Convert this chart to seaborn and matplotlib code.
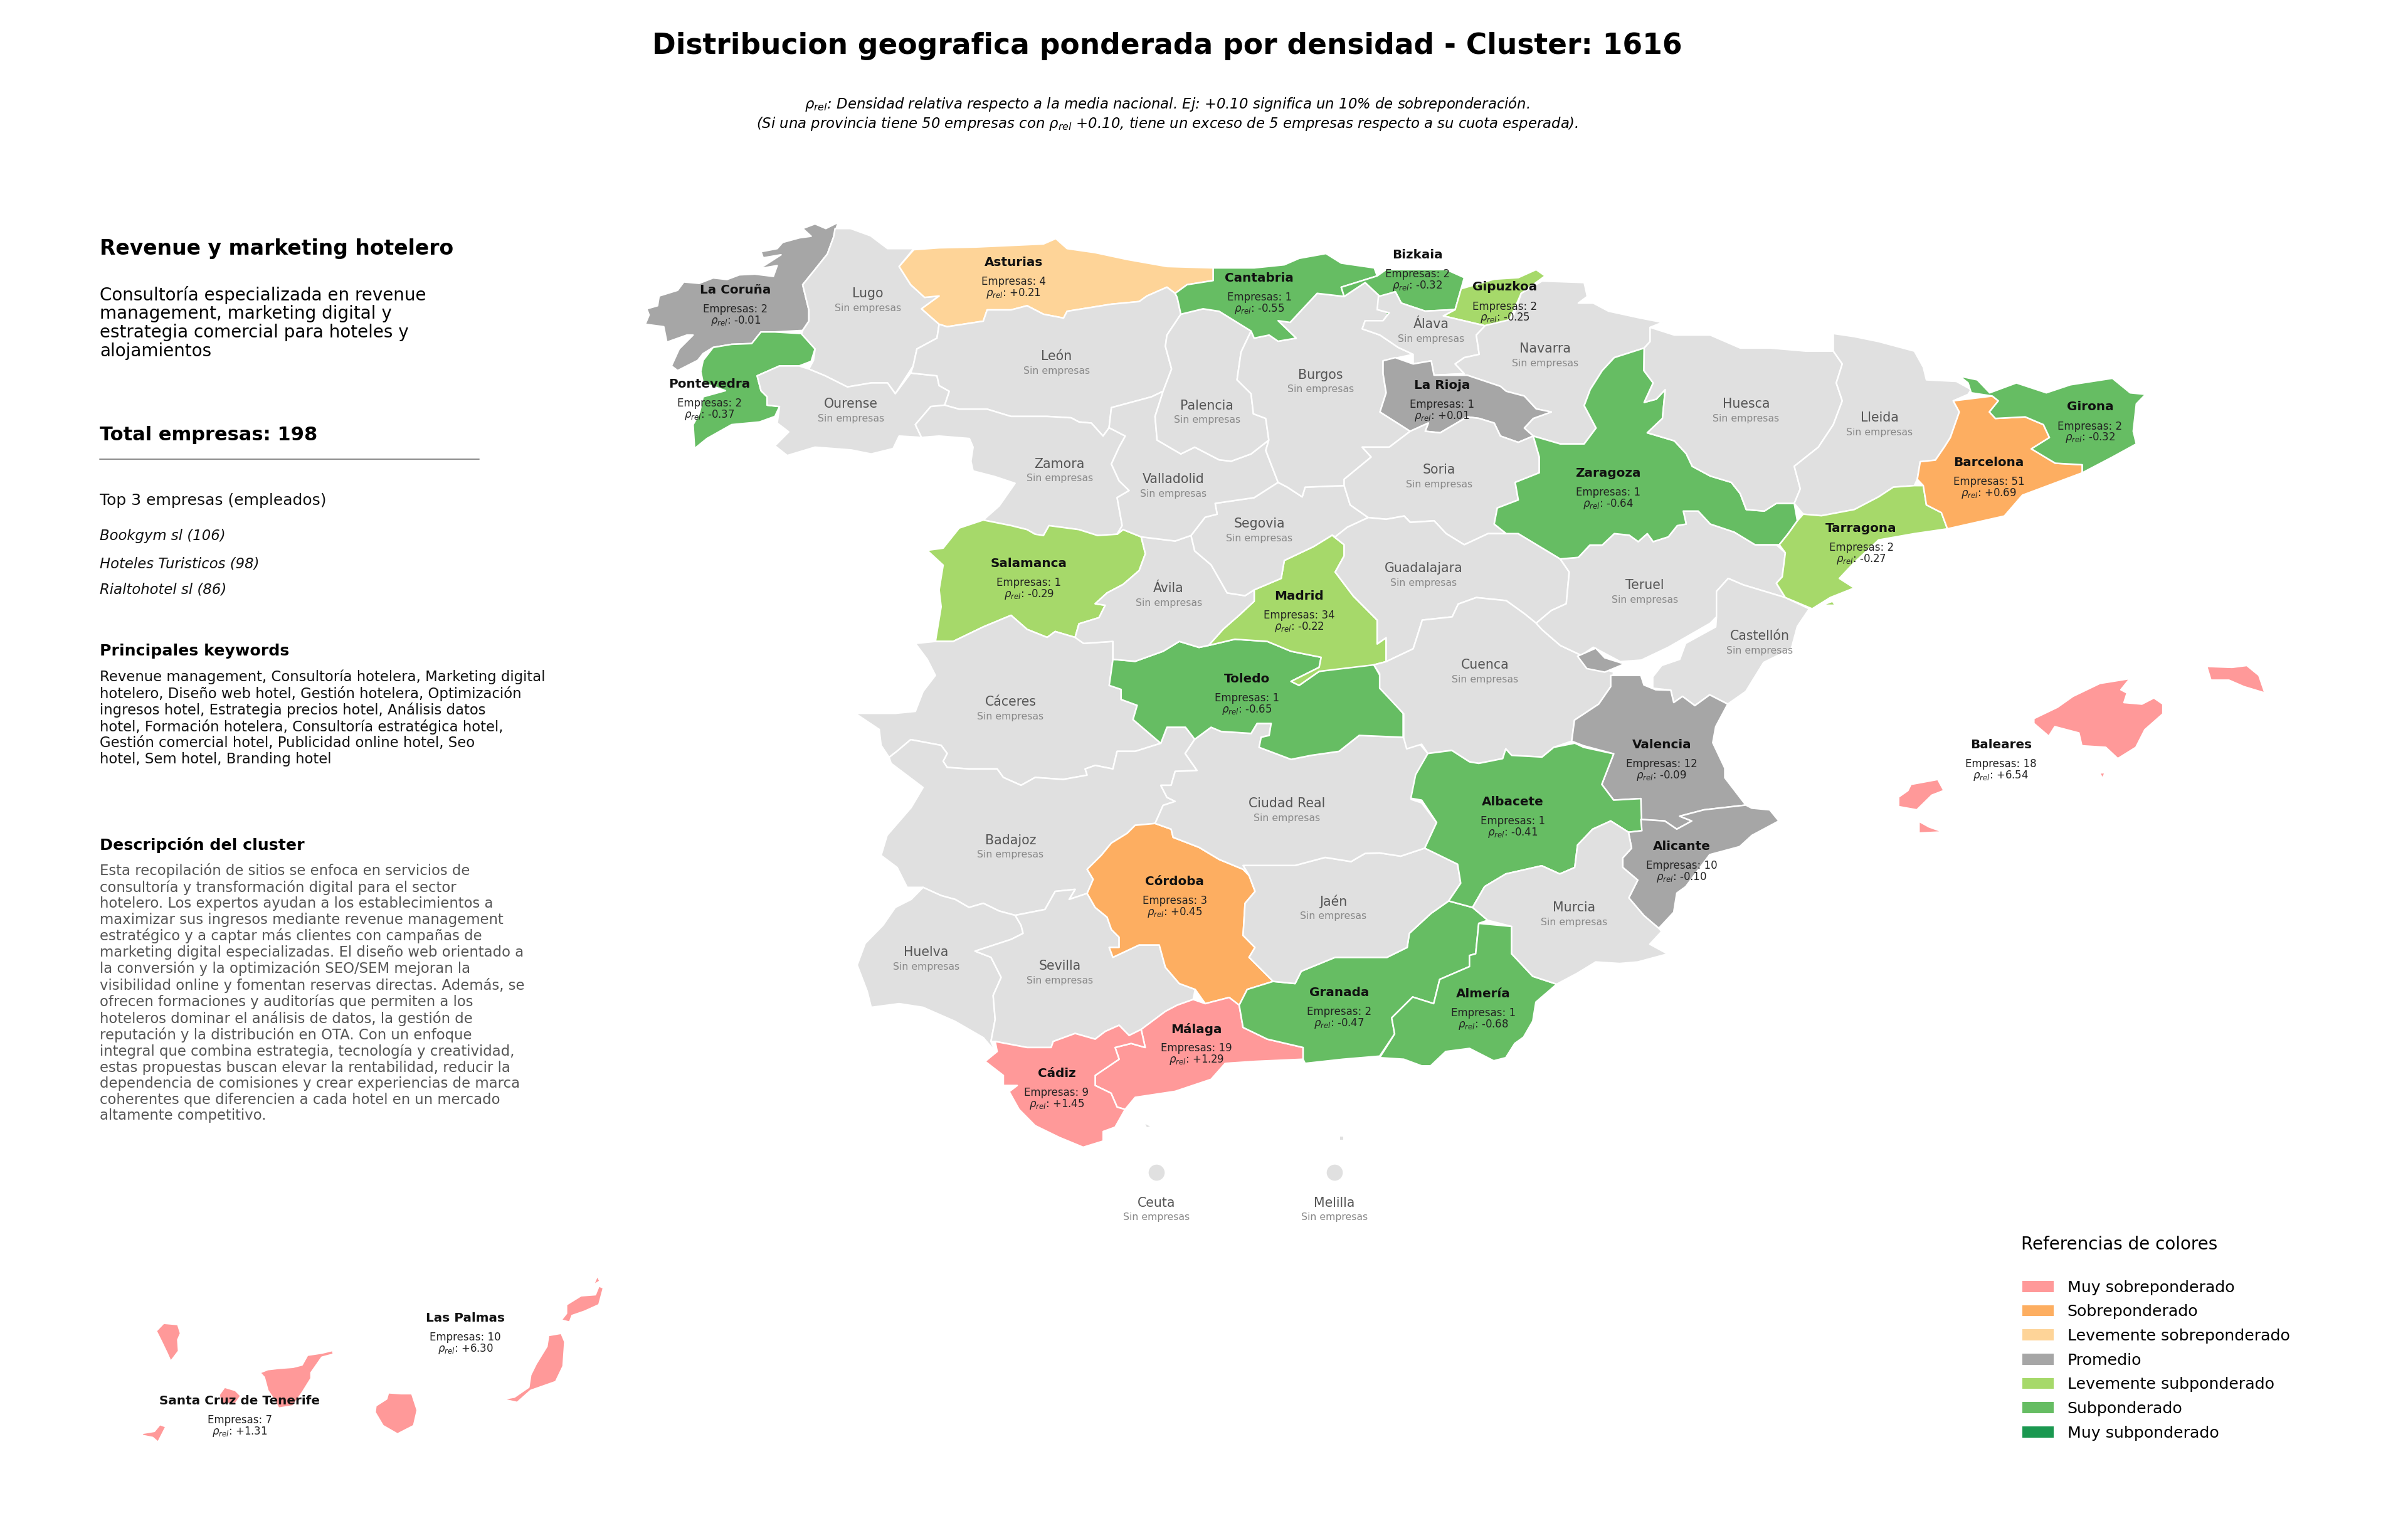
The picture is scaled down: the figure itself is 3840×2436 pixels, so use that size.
import matplotlib
matplotlib.use("Agg")
import matplotlib.pyplot as plt
from matplotlib.patches import Patch
import pandas as pd
import seaborn as sns

# contornos leidos a ojo del mapa, en unidades de 1560 x 989.6
LA_CORUNA = [(543,144),(535,148),(528,145),(520,148),(525.5,153),(518,154),(507,157),(503.5,161),(493,163),(494.4,167),(506,165),(492,174),(503.5,172),(501,179),(489,177.5),(479,178),(471,181),(462,180),(453,183.5),(443,182.6),(439,188),(427,191.7),(426,198),(419,200),(420.5,204),(418,210),(430,211.6),(432,221.6),(445,217),(449,217),(440,226),(435,237),(439,240),(452,233.4),(455.5,229),(462,225),(474,223),(487,222.5),(493,215),(502,215),(520,214),(524,208),(524,200.7),(520,184.4),(526.8,176),(536,164.5),(540,153.6)]
LUGO = [(541,148),(551,148),(564,152.7),(575,161),(592,161),(582.5,172.6),(590,184.4),(599,192.6),(608.4,191.7),(597,200),(608.4,210),(607,219),(594,226),(591.6,237),(580,255),(575,248),(564.4,248),(549,250.6),(534.6,243.4),(524,239),(527,233.4),(528,226),(519,217),(520,214),(524,208),(524,200.7),(520,184.4),(526.8,176),(536,164.5),(540,153.6)]
PONTEVEDRA = [(519,216),(528,226),(525.5,234),(517.7,237),(505,237),(490.5,243.4),(493,253),(497,257),(497,262.4),(505,263.3),(502,269.7),(492,273.3),(474,275),(458,284),(450,290.5),(449,275),(453,268),(455.5,257),(470,253),(455.5,248),(454,240.6),(455.5,233.4),(462,225),(474,223),(487,222.5),(493,215),(502,215)]
OURENSE = [(524,239),(534.6,243.4),(549,250.6),(564.4,248),(575,248),(580,255),(590,241.6),(607,243.4),(608.4,249.7),(615,253.4),(612,262.4),(603,263.3),(593,275),(597,283.3),(582.5,282.4),(578.6,290.5),(564.4,294),(551.4,291.4),(528,289.6),(510,295),(502,288.7),(511,279.7),(503.5,274),(505,263.3),(497,262.4),(497,257),(493,253),(490.5,243.4),(505,237),(517.7,237)]
ASTURIAS = [(592,161.7),(608.4,160.5),(632,160),(676,158),(684,154.5),(691.3,161),(709.4,163.6),(730,168),(756,172.6),(786,173.5),(786,181.7),(769,184.4),(761.3,190),(756,186),(743,191.7),(738,195.3),(720,197),(691.3,201.6),(689,206),(676,203.5),(665.4,198),(655,200.7),(639.5,200.7),(637,208),(613.6,211.6),(608.4,210),(597,200),(608.4,191.7),(599,192.6),(590,184.4),(582.5,172.6)]
LEON = [(613.6,211.6),(637,208),(639.5,200.7),(655,200.7),(665.4,198),(676,203.5),(689,206),(691.3,201.6),(720,197),(738,195.3),(743,191.7),(756,186),(761.3,190),(762.6,192.6),(765,203.5),(756,217),(755,224.3),(759,239),(753.5,253.4),(746,257),(720,264),(718.5,277),(714.6,282.4),(707,274),(699,273.3),(694,270.6),(678.4,269.7),(655,269.7),(639.5,265),(621.4,265),(612,262.4),(615,253.4),(608.4,249.7),(607,243.4),(590,241.6),(591.6,237),(594,226),(607,219),(608.4,210)]
ZAMORA = [(612,262.4),(621.4,265),(639.5,265),(655,269.7),(678.4,269.7),(694,270.6),(699,273.3),(707,274),(714.6,282.4),(718.5,277),(729,282.4),(725,289.6),(720,300.5),(725,311.4),(731.5,317.7),(723.7,322.3),(727,340.4),(723.7,346),(711,346.8),(699,343),(679.6,340.4),(676,346.8),(670.6,346),(665.4,343),(655,340.4),(637,336.8),(647.3,327.7),(657.6,313),(644.7,308.7),(630.4,305),(629,298.7),(630.4,289.6),(628,284),(608.4,282.4),(597,283.3),(593,275),(603,263.3)]
SALAMANCA = [(637,336.8),(655,340.4),(665.4,343),(670.6,346),(676,346.8),(679.6,340.4),(699,343),(711,346.8),(723.7,346),(727.6,343),(739.3,347.7),(742,358.6),(738,369.5),(727.6,378.5),(717.2,384),(709.5,391),(716,392),(712,400),(699,404),(696.5,412.8),(683.6,409),(678.4,412.8),(665.4,407.6),(655,398.5),(637,406),(617.5,415.4),(606,415.4),(609.7,393),(608.4,382),(611,366),(600.6,356.4),(611,355),(621.4,342)]
CACERES = [(593,416.7),(606,415.4),(617.5,415.4),(637,406),(655,398.5),(665.4,407.6),(678.4,412.8),(683.6,409),(696.5,412.8),(702,416.7),(721,415.4),(721,427),(718.6,443.9),(726.3,446.5),(726.3,453),(736.7,456.8),(734,466),(752,481.4),(735.4,486.6),(723.7,486.6),(721,498),(709.5,495.7),(703,498),(704.3,502),(688.7,504.8),(670.6,503.5),(661.5,508.6),(650,503.5),(646,498),(628,498),(613.6,497),(611,493),(613.6,488),(609.7,482.7),(590,479),(581,486.6),(576,490.5),(570.8,482.7),(569.6,472.4),(554,462),(580,462),(593,460.7),(598,447.8),(606,437.4),(600.7,427)]
BADAJOZ = [(590,479),(609.7,482.7),(613.6,488),(611,493),(613.6,497),(628,498),(646,498),(650,503.5),(661.5,508.6),(670.6,503.5),(688.7,504.8),(704.3,502),(703,498),(709.5,495.7),(721,498),(723.7,486.6),(735.4,486.6),(752,481.4),(756,471),(768,471),(774,478.8),(767.8,488),(775.5,499),(761.3,499.6),(758.7,508.6),(752,508.6),(756,516.4),(761.3,519),(753.5,521.6),(748.3,533.3),(735.4,534.5),(730.2,539.7),(720,546),(713.4,554),(704.3,563),(708.2,569.5),(704.3,578.6),(696.5,581.2),(692.6,582.5),(696.5,576),(683.6,577.3),(677,589),(657.7,592.8),(647.3,590),(637,585),(627.8,587.7),(618.8,582.5),(609.7,580),(598,574.7),(587.7,574.7),(581.2,561.8),(570.8,554),(574.7,541),(590.3,523),(598,510),(577.3,494.4),(576,490.5),(581,486.6)]
HUELVA = [(598,574.7),(609.7,580),(618.8,582.5),(627.8,587.7),(637,585),(647.3,590),(657.7,592.8),(661.5,599.3),(662.8,604.5),(655,608.4),(631.7,616),(642,620),(648.6,633),(643.4,644.7),(644.7,660.2),(642,674.5),(644.7,681),(637,672),(618.8,661.5),(598,652.4),(582.5,650),(564.4,652.4),(561.8,642),(555.3,625),(560.5,611),(572,599.3),(580,587.7),(590.3,582.5)]
SEVILLA = [(657.7,592.8),(677,589),(683.6,577.3),(696.5,576),(692.6,582.5),(704.3,578.6),(709.5,587.7),(717.2,594),(720,602),(725,607),(725,613.6),(718.6,613.6),(721,620),(738,612),(751,612),(755,626.5),(764,637),(774.3,640.8),(773,647.3),(762.6,651),(755,655),(739.3,666.7),(731.5,670.6),(725,664),(716,668),(709.5,673),(696.5,669.3),(682.3,674.5),(681,678.4),(665.4,678.4),(644.7,674.5),(642,674.5),(644.7,660.2),(643.4,644.7),(648.6,633),(642,620),(631.7,616),(655,608.4),(662.8,604.5),(661.5,599.3)]
CORDOBA = [(735.4,534.5),(748.3,533.3),(758.7,537),(760,542.3),(776.8,548.8),(789.8,556.6),(805.3,563),(809.2,567),(813.1,577.3),(806.6,585),(805.3,605.8),(813,613.6),(809.2,620),(824.8,635.6),(808,640.8),(802.8,651),(796.3,646),(780.8,650),(774.3,640.8),(764,637),(755,626.5),(751,612),(738,612),(721,620),(718.6,613.6),(725,613.6),(725,607),(720,602),(717.2,594),(709.5,587.7),(704.3,578.6),(708.2,569.5),(704.3,563),(713.4,554),(720,546),(730.2,539.7)]
MALAGA = [(773,647.3),(780.8,650),(796.3,646),(802.8,651),(805.3,665.4),(821,673),(844.2,678.4),(844.2,686),(813,687.4),(793.7,688.7),(784.6,699),(761.3,706.8),(735.4,710.7),(728.9,718.5),(723.7,717),(719.8,708),(709.5,703),(709.5,696.5),(725,686),(722.4,678.4),(732.8,675.8),(741.9,678.4),(739.3,666.7),(755,655),(762.6,651)]
CADIZ = [(644.7,674.5),(665.4,678.4),(681,678.4),(682.3,674.5),(696.5,669.3),(709.5,673),(716,668),(725,664),(731.5,670.6),(739.3,666.7),(741.9,678.4),(732.8,675.8),(722.4,678.4),(725,686),(709.5,696.5),(709.5,703),(719.8,708),(723.7,717),(728.9,718.5),(722.4,730),(714.7,732.8),(714.7,739),(701.7,743),(686.2,736.6),(670.6,729),(660.2,718.5),(653.8,707),(659,703),(650,703),(650,696.5),(638.2,687.4),(646,681)]
GRANADA = [(802.8,651),(808,640.8),(824.8,635.6),(839,637),(843,629),(865,620),(880.5,620),(898.6,620),(911.6,613.6),(913,604.5),(927,591.6),(938.5,583.5),(954,587.7),(963.8,596),(958,598),(956,617.7),(952,618.8),(952,626),(932.7,634.3),(928.8,650),(915.2,645.7),(901.6,659.2),(903.5,669.6),(893.8,684),(870,686),(845.5,688.7),(844.2,686),(844.2,678.4),(821,673),(805.3,665.4)]
ALMERIA = [(958,598),(979.3,600),(979.3,617.7),(993,632.3),(1008.5,637.4),(995,649),(993,661.3),(987,671.7),(981.3,675.8),(975.5,685),(967.7,687),(952,679),(936.6,681),(926.8,690.3),(921,690.3),(909.4,686),(893.8,685),(903.5,669.6),(901.6,659.2),(915.2,645.7),(928.8,650),(932.7,634.3),(952,626),(952,618.8),(956,617.7)]
JAEN = [(805.3,560.5),(839,560.5),(858.5,555.3),(875.3,558),(884.4,552.7),(893.8,552.4),(907.4,554.5),(923,549.3),(944.3,559.7),(946.3,572),(938.5,583.5),(927,591.6),(913,604.5),(911.6,613.6),(898.6,620),(880.5,620),(865,620),(843,629),(839,637),(824.8,635.6),(809.2,620),(813,613.6),(805.3,605.8),(806.6,585),(813.1,577.3),(809.2,567)]
CIUDAD_REAL = [(758.7,537),(748.3,533.3),(753.5,521.6),(761.3,519),(756,516.4),(752,508.6),(758.7,508.6),(761.3,499.6),(775.5,499),(767.8,488),(774,478.8),(784.6,471),(791,473.7),(810.5,475),(814.4,468.5),(823.5,468.5),(822.2,476.3),(817,477.5),(815.7,484),(836.4,491.8),(849.4,489.2),(867.5,486.6),(880.5,476.3),(909,477.5),(912.9,484),(919.4,481.4),(925,488),(917,503.5),(917.1,510),(914.2,517.7),(921,520),(930.7,532.7),(923,549.3),(907.4,554.5),(893.8,552.4),(884.4,552.7),(875.3,558),(858.5,555.3),(839,560.5),(805.3,560.5),(809.2,567),(805.3,563),(789.8,556.6),(776.8,548.8),(760,542.3)]
TOLEDO = [(721,427),(735.4,428.3),(753.5,421.8),(764,415.4),(776.8,419.3),(783,418),(800,414),(821,415.4),(836.4,421.8),(855.9,425.7),(854.6,432.2),(836.4,441.3),(841.6,443.9),(854.6,434.8),(889.5,429.6),(894.7,438.7),(894,445),(909,462),(909,477.5),(880.5,476.3),(867.5,486.6),(849.4,489.2),(836.4,491.8),(815.7,484),(817,477.5),(822.2,476.3),(823.5,468.5),(814.4,468.5),(810.5,475),(791,473.7),(784.6,471),(774,478.8),(768,471),(756,471),(752,481.4),(734,466),(736.7,456.8),(726.3,453),(726.3,446.5),(718.6,443.9)]
MADRID = [(863,346.6),(870.8,352.8),(870.8,360),(865,370.5),(876.7,386),(892.2,401.6),(892.2,417),(898,413),(898,428.5),(890,430.6),(854.6,434.8),(841.6,443.9),(836.4,441.3),(854.6,432.2),(855.9,425.7),(836.4,421.8),(821,415.4),(800,414),(783,418),(792.4,407.5),(802.7,398.5),(812.5,389.4),(812.5,382),(830,374.6),(832,363),(851,354)]
AVILA = [(739.3,347.7),(761.3,350.4),(771.6,346.8),(774,356.8),(784.6,365.8),(795,384),(806.6,385.8),(812.5,382),(812.5,389.4),(802.7,398.5),(792.4,407.5),(783,418),(776.8,419.3),(764,415.4),(753.5,421.8),(735.4,428.3),(721,427),(721,415.4),(702,416.7),(696.5,412.8),(699,404),(712,400),(716,392),(709.5,391),(717.2,384),(727.6,378.5),(738,369.5),(742,358.6)]
SEGOVIA = [(771.6,346.8),(780.7,335),(788.5,333),(787.2,326),(812.5,322.3),(828,312.4),(834,315.5),(843.6,321.8),(845.5,315.5),(870.8,314.5),(874.7,327),(886.4,335.2),(872.8,341.5),(865,347.7),(863,346.6),(851,354),(832,363),(830,374.6),(812.5,382),(806.6,385.8),(795,384),(784.6,365.8),(774,356.8)]
VALLADOLID = [(720,264),(746,257),(753.5,253.4),(748.3,269.7),(749.6,285),(765,294),(774,289.6),(789.8,297.8),(797.6,298.7),(810.5,294),(822,285),(820,291.7),(828,312.4),(812.5,322.3),(787.2,326),(788.5,333),(780.7,335),(771.6,346.8),(761.3,350.4),(739.3,347.7),(727.6,343),(723.7,346),(727,340.4),(723.7,322.3),(731.5,317.7),(725,311.4),(720,300.5),(725,289.6),(729,282.4),(718.5,277)]
PALENCIA = [(765,203.5),(779.4,200),(789.8,201.6),(810.5,214.4),(804,228),(801.4,246),(810.5,255),(812,268),(820,271),(822,285),(810.5,294),(797.6,298.7),(789.8,297.8),(774,289.6),(765,294),(749.6,285),(748.3,269.7),(753.5,253.4),(759,239),(755,224.3),(756,217)]
BURGOS = [(810.5,214.4),(812.5,219),(822.2,217),(828,221),(839.7,219),(828,207.7),(835.8,208.8),(853.3,190),(870.8,192),(884.4,183),(894,192),(892.2,200.5),(900,202.6),(896,207.7),(884.4,207.7),(882.5,213),(894,217),(905.8,225),(915.5,229.5),(896,233.7),(896,242),(898,254.4),(894,266.8),(913.6,279.3),(900,289.6),(882.5,289.6),(888.3,296),(870.8,310.4),(870.8,314.5),(845.5,315.5),(843.6,321.8),(834,315.5),(828,312.4),(820,291.7),(822,285),(820,271),(812,268),(810.5,255),(801.4,246),(804,228)]
CANTABRIA = [(786,173.5),(812.5,173.5),(832,171.5),(841.7,167.3),(859,164.2),(868.9,170.4),(890.3,173.5),(892.2,178.7),(868.9,186),(870.8,192),(853.3,190),(835.8,208.8),(828,207.7),(839.7,219),(828,221),(822.2,217),(812.5,219),(810.5,214.4),(789.8,201.6),(779.4,200),(765,203.5),(762.6,192.6),(761.3,190),(769,184.4),(786,181.7)]
BIZKAIA = [(892.2,178.7),(898,174.6),(937,174.6),(948.6,179.8),(946.6,187),(942.7,200.5),(923.3,201.5),(907.8,196.3),(904,189),(894,192),(884.4,183),(870.8,192),(868.9,186)]
BIZKAIA_ENCLAVE = [(898,201.5),(904,202),(905,205),(899,205)]
GIPUZKOA = [(946.6,187),(968,180.8),(983.6,179.8),(995.2,174.6),(1001,178.7),(985.5,190),(977.7,207.7),(962.2,211),(935,204.6),(942.7,200.5)]
ALAVA = [(893,192),(904,189),(907.8,196.3),(923.3,201.5),(942.7,200.5),(935,204.6),(962.2,211),(956.4,217),(958.3,229.5),(948.6,231.6),(942.7,235.7),(948.6,242),(929,243),(927.2,233.7),(915.5,235.7),(915.5,229.5),(905.8,225),(894,217),(882.5,213),(884.4,207.7),(896,207.7),(900,202.6),(892.2,200.5)]
NAVARRA = [(999,182),(1026.3,183),(1028.3,192),(1022.5,196.3),(1032.2,196.3),(1042,201.5),(1061.3,205.7),(1077,208.8),(1069,212),(1069,221.2),(1065.2,225.4),(1045.8,231.6),(1038,240),(1030.2,252.3),(1026.3,262.7),(1034,277.2),(1026.3,287.5),(1010.8,287.5),(993.3,282.4),(987.5,277.2),(993.3,271),(1005,266.8),(995.2,264.8),(987.5,256.5),(975.8,253.4),(972,250.2),(950.5,243),(929,243),(948.6,242),(942.7,235.7),(948.6,231.6),(958.3,229.5),(956.4,217),(962.2,210.8),(979.7,206.7),(985.5,190)]
LA_RIOJA = [(896,233.7),(903.9,231.6),(915.5,235.7),(927.2,233.7),(929,243),(950.5,243),(972,250.2),(975.8,253.4),(987.5,256.5),(995.2,264.8),(1005,266.8),(993.3,271),(987.5,277.2),(993.3,282.4),(983.6,286.5),(972,282.4),(968,274),(958.3,271),(950.5,270),(933,280.3),(923.3,279.3),(925.3,274),(913.6,279.3),(894,266.8),(898,254.4),(896,242)]
SORIA = [(913.6,279.3),(925.3,274),(923.3,279.3),(933,280.3),(950.5,270),(958.3,271),(968,274),(972,282.4),(983.6,286.5),(993.3,282.4),(997.2,296),(997.2,306.2),(981.6,312.4),(983.6,323.8),(970,329),(968,339.4),(975.8,345.6),(964,345.6),(948.6,352.8),(936.9,345.6),(929.1,337.3),(913.6,338.3),(909.7,334.2),(898,336.3),(886.4,335.2),(874.7,327),(870.8,314.5),(870.8,310.4),(888.3,296),(882.5,289.6),(900,289.6)]
GUADALAJARA = [(886.4,335.2),(898,336.3),(909.7,334.2),(913.6,338.3),(929.1,337.3),(936.9,345.6),(948.6,352.8),(964,345.6),(975.8,345.6),(983.6,345.6),(1010.8,362),(1016.6,370.5),(1014.7,391),(1005,395.4),(995.2,403.6),(987.5,397.4),(975.8,389),(956.4,387),(944.7,391.2),(940.8,399.5),(921.4,401.6),(917.5,414),(915.5,420.2),(898,428.5),(898,413),(892.2,417),(892.2,401.6),(876.7,386),(865,370.5),(870.8,360),(870.8,352.8),(863,346.6),(865,347.7),(872.8,341.5)]
CUENCA = [(898,428.5),(915.5,420.2),(917.5,414),(921.4,401.6),(940.8,399.5),(944.7,391.2),(956.4,387),(975.8,389),(987.5,397.4),(995.2,403.6),(999,407.8),(1010.8,418),(1024.4,424.4),(1026,429),(1045.4,435.3),(1043.5,444.7),(1035.7,456),(1020,466.4),(1018.2,480),(1006.6,484),(999,490.3),(979.3,489.2),(975.5,485),(973.5,491.3),(958,494.4),(952,493.4),(940.5,486),(925,488),(921,482),(911.3,485),(909.4,478),(909.4,462.3),(893.8,445.7),(893.8,436.4),(890,430.6)]
TERUEL = [(1010.8,362),(1022.5,361),(1030,353),(1038,353),(1045.8,345.6),(1055.5,346.6),(1061.3,350.8),(1067.2,345.6),(1071,350.8),(1080.8,347.7),(1086.6,340.4),(1092.4,339.4),(1090.5,331),(1100.2,331),(1108,339.4),(1123.5,344.6),(1137,352.8),(1150.8,352.8),(1156.6,358),(1154.6,373.6),(1150.8,377.7),(1156.6,387),(1129.4,378.8),(1119.6,374.6),(1112,383),(1112,399.5),(1108,403.6),(1080.8,419.2),(1063.3,427.5),(1049.7,428.5),(1032.2,419.2),(1024.4,424.4),(1010.8,418),(999,407.8),(995.2,403.6),(1005,395.4),(1014.7,391),(1016.6,370.5)]
CASTELLON = [(1156.6,387),(1172.1,394.3),(1164.4,405.7),(1160.5,420.2),(1142.6,429),(1131,447.8),(1119.3,456),(1107.6,450),(1098,457),(1090,451),(1084.3,455),(1082.4,447),(1070.7,445.7),(1070.7,438.4),(1076.5,431),(1088.2,427),(1092,416.7),(1111.5,406),(1112,399.5),(1112,383),(1119.6,374.6),(1129.4,378.8)]
VALENCIA = [(1043.5,437.4),(1063,437.4),(1065,443.6),(1072.6,446.7),(1082.4,447),(1084.3,455),(1090,451),(1098,457),(1107.6,450),(1119.3,456),(1111.5,470.6),(1109.6,481),(1117.4,497.5),(1117.4,503.7),(1131,521.4),(1103.8,524.5),(1088.2,528.6),(1096,531.7),(1086.3,537),(1078.5,531.7),(1063,530.7),(1063,517.2),(1045.4,518.2),(1037.7,508),(1045.4,488.2),(1026,483),(1018.2,480),(1020,466.4),(1035.7,456),(1043.5,444.7)]
VALENCIA_ADEMUZ = [(1022,425),(1033.8,419.8),(1039.6,426),(1052.4,430),(1039.6,435.3),(1028,433)]
ALBACETE = [(1020.2,481.3),(1026,484),(1045.4,488.2),(1037.7,508),(1045.4,518.2),(1063,517.2),(1063.7,538),(1055,539),(1043.5,531.7),(1031.8,537),(1022,547.3),(1020.2,561.8),(1010.5,566),(998.8,560.7),(975.5,566),(961.8,574.2),(954,587.7),(938.5,583.5),(946.3,572),(944.3,559.7),(923,549.3),(930.7,532.7),(921,518.2),(914,517),(917.1,501.7),(925,488),(940.5,486),(952,493.4),(958,494.4),(973.5,491.3),(975.5,485),(979.3,489.2),(999,490.3),(1006.6,484)]
ALICANTE = [(1063,530.7),(1078.5,531.7),(1086.3,537),(1096,531.7),(1088.2,528.6),(1103.8,524.5),(1131,521.4),(1134.9,523.4),(1146.5,524.5),(1152.4,531.7),(1135,541),(1127,548.3),(1107.6,553.5),(1092.1,574.2),(1086.3,578.4),(1084.3,590.8),(1074.6,601.2),(1065,593),(1055.2,581.5),(1061,570),(1051.3,561.8),(1051.3,555.6),(1057,549.3),(1055,539),(1063.7,538)]
MURCIA = [(1055,539),(1057,549.3),(1051.3,555.6),(1051.3,561.8),(1061,570),(1055.2,581.5),(1065,593),(1074.6,601.2),(1076.5,603.2),(1068.8,611.5),(1080.4,617.8),(1061,623),(1049.3,624),(1033.8,623),(1022,630.2),(1008.5,637.4),(993,632.3),(979.3,617.7),(979.3,600),(963.8,596),(954,587.7),(961.8,574.2),(975.5,566),(998.8,560.7),(1010.5,566),(1020.2,561.8),(1022,547.3),(1031.8,537),(1043.5,531.7)]
ZARAGOZA = [(1065.2,225.4),(1045.8,231.6),(1038,240),(1030.2,252.3),(1026.3,262.7),(1034,277.2),(1026.3,287.5),(1010.8,287.5),(993.3,282.4),(997.2,296),(997.2,306.2),(981.6,312.4),(983.6,323.8),(970,329),(968,339.4),(975.8,345.6),(983.6,345.6),(1010.8,362),(1022.5,361),(1030,353),(1038,353),(1045.8,345.6),(1055.5,346.6),(1061.3,350.8),(1067.2,345.6),(1071,350.8),(1080.8,347.7),(1086.6,340.4),(1092.4,339.4),(1090.5,331),(1100.2,331),(1108,339.4),(1123.5,344.6),(1137,352.8),(1152.7,352.8),(1158.5,345.6),(1164.4,337.3),(1162.4,326),(1150.8,326),(1143,331),(1131.3,330),(1127.4,319.7),(1121.6,312.4),(1108,308.3),(1096.3,302),(1092.4,293.8),(1084.7,285.5),(1067.2,280.3),(1077,271),(1078.8,252.3),(1073,258.5),(1065.2,260.6),(1071,248),(1065,240)]
HUESCA = [(1069,212),(1084.7,217),(1108,217),(1127.4,225.4),(1146.9,225.4),(1170,227.4),(1187.7,227.4),(1193.5,235.7),(1189.6,248),(1193.5,259.6),(1187.7,275),(1178,289.6),(1162.4,302),(1166.3,316.6),(1162.4,326),(1150.8,326),(1143,331),(1131.3,330),(1127.4,319.7),(1121.6,312.4),(1108,308.3),(1096.3,302),(1092.4,293.8),(1084.7,285.5),(1067.2,280.3),(1077,271),(1078.8,252.3),(1073,258.5),(1065.2,260.6),(1071,248),(1065,240),(1065.2,225.4),(1069,221.2)]
LLEIDA = [(1187.7,216),(1201.3,218),(1217,221.2),(1240.2,227.4),(1246,237.8),(1248,246),(1267.4,247),(1277,252.3),(1275,255.4),(1265.4,259.6),(1269.3,266.8),(1263.5,283.4),(1259.6,289.6),(1253.8,298),(1244,299),(1242.1,310.4),(1240.2,314.5),(1226.6,315.5),(1217,321.8),(1201.3,330),(1180,334),(1168.2,333),(1162.4,326),(1166.3,316.6),(1162.4,302),(1178,289.6),(1187.7,275),(1193.5,259.6),(1189.6,248),(1193.5,235.7),(1187.7,227.4)]
TARRAGONA = [(1240.2,314.5),(1246,314.5),(1248,327),(1257.7,332),(1261.6,342.5),(1240.2,345.6),(1217,349.7),(1201.3,364.3),(1191.6,374.6),(1201.3,380.8),(1185.7,387),(1174,394.3),(1156.6,387),(1150.8,377.7),(1154.6,373.6),(1156.6,358),(1152.7,352.8),(1158.5,345.6),(1164.4,337.3),(1168.2,333),(1180,334),(1201.3,330),(1217,321.8),(1226.6,315.5)]
TARRAGONA_ISLOTE = [(1183,391.5),(1187,390),(1188,391.5)]
BARCELONA = [(1265.4,259.6),(1290.7,256.5),(1294.6,259.6),(1288.8,266.8),(1292.7,271),(1312,270),(1323.8,275),(1327.7,283.4),(1316,290.7),(1331.5,300),(1349,301),(1349,306.2),(1310.2,320.7),(1298.5,334.2),(1261.6,342.5),(1257.7,332),(1248,327),(1246,314.5),(1242.1,310.4),(1244,299),(1253.8,298),(1259.6,289.6),(1263.5,283.4),(1269.3,266.8)]
GIRONA = [(1269.4,243.6),(1281,246),(1289,254.4),(1306.3,248),(1325.7,254.4),(1341.3,249.2),(1368.5,245),(1380,254.4),(1390,255.4),(1384,261.6),(1382,279.3),(1384,287.5),(1368.5,296),(1349,306.2),(1349,301),(1331.5,300),(1316,290.7),(1327.7,283.4),(1323.8,275),(1312,270),(1292.7,271),(1288.8,266.8),(1294.6,259.6),(1290.7,256.5),(1277,254.4),(1275,248)]
MALLORCA = [(1379.8,439.5),(1374,446.7),(1378,448.8),(1376,455),(1387.6,456),(1395.4,452),(1401.2,456),(1401.2,462.3),(1389.5,472.6),(1383.7,484),(1372,491.3),(1364.2,484),(1348.7,483),(1346.8,474.7),(1331.2,470.6),(1327.3,476.8),(1317.6,468.5),(1317.6,465.4),(1333,458),(1342.9,451),(1360.4,442.6)]
MENORCA = [(1429.6,431.6),(1446,432.2),(1455.6,431),(1463.4,437.4),(1467.3,448.8),(1453.7,444.7),(1444,440.5),(1432.3,440.5)]
IBIZA = [(1255.4,504.8),(1259.3,512),(1251.5,515),(1241.8,524.5),(1230,522.4),(1230,516.2),(1236,512),(1238,508)]
FORMENTERA = [(1243.7,532.8),(1249.5,536),(1256.2,538.4),(1243.7,539)]
CABRERA = [(1361,501),(1363,501),(1362,503)]
LA_PALMA = [(101.2,862),(106,857),(115.2,857.8),(117,863.5),(115.2,867.7),(115.7,875),(110.6,881.7),(108.2,876.3),(104.7,869)]
TENERIFE = [(168.4,889),(173.5,887),(180.5,886.2),(189.8,885.5),(195.7,884),(199.2,877.7),(208.5,876.3),(215.5,874.6),(216,877),(208.5,879),(201.5,889),(201.5,892.7),(195.7,902),(189.8,910.5),(180.5,912),(178.2,907.6),(173.5,900.5),(171.2,892)]
LA_GOMERA = [(142,903.3),(145.5,898.4),(152.5,900.5),(156,904),(152.5,909),(143,909)]
EL_HIERRO = [(92,928.3),(100,927),(103.6,922.6),(107.5,924),(102.4,934),(98.9,931),(92.4,929.7)]
GRAN_CANARIA = [(251.6,902),(259.8,902.6),(266.8,902.6),(270.3,913.3),(268,923.3),(257.5,928.7),(248.1,923.3),(243,914.7),(243.5,910.5),(250.5,906)]
FUERTEVENTURA = [(355.4,864.9),(363.6,863.5),(365.9,869),(364.8,884.8),(360,894.8),(343.8,900.5),(335,908.3),(325.6,906.2),(333.3,904.8),(342.6,898.4),(343.8,890.5),(347.3,883.4),(354.3,872)]
LANZAROTE = [(363.6,854.9),(367,850.6),(367,845),(376.4,839.2),(385.7,838.5),(388,832.8),(390.9,834.2),(388,845),(378.7,849.2),(370.6,852),(369,856.3)]
LA_GRACIOSA = [(385.5,831),(387,827.5),(388,829.5)]
ALBORAN = [(742,728),(745,729.5),(743,730)]
CHAFARINAS = [(868,736),(870,736),(870,738),(868,738)]

SHAPES = {
    "La Coruña": [LA_CORUNA], "Lugo": [LUGO], "Pontevedra": [PONTEVEDRA], "Ourense": [OURENSE],
    "Asturias": [ASTURIAS], "León": [LEON], "Zamora": [ZAMORA], "Salamanca": [SALAMANCA],
    "Cáceres": [CACERES], "Badajoz": [BADAJOZ], "Huelva": [HUELVA], "Sevilla": [SEVILLA],
    "Córdoba": [CORDOBA], "Málaga": [MALAGA], "Cádiz": [CADIZ], "Granada": [GRANADA],
    "Almería": [ALMERIA, ALBORAN, CHAFARINAS], "Jaén": [JAEN], "Ciudad Real": [CIUDAD_REAL], "Toledo": [TOLEDO],
    "Madrid": [MADRID], "Ávila": [AVILA], "Segovia": [SEGOVIA], "Valladolid": [VALLADOLID],
    "Palencia": [PALENCIA], "Burgos": [BURGOS], "Cantabria": [CANTABRIA],
    "Bizkaia": [BIZKAIA, BIZKAIA_ENCLAVE], "Gipuzkoa": [GIPUZKOA], "Álava": [ALAVA],
    "Navarra": [NAVARRA], "La Rioja": [LA_RIOJA], "Soria": [SORIA], "Guadalajara": [GUADALAJARA],
    "Cuenca": [CUENCA], "Teruel": [TERUEL], "Castellón": [CASTELLON],
    "Valencia": [VALENCIA, VALENCIA_ADEMUZ], "Albacete": [ALBACETE], "Alicante": [ALICANTE],
    "Murcia": [MURCIA], "Zaragoza": [ZARAGOZA], "Huesca": [HUESCA], "Lleida": [LLEIDA],
    "Tarragona": [TARRAGONA, TARRAGONA_ISLOTE], "Barcelona": [BARCELONA], "Girona": [GIRONA],
    "Baleares": [MALLORCA, MENORCA, IBIZA, FORMENTERA, CABRERA],
    "Santa Cruz de Tenerife": [LA_PALMA, TENERIFE, LA_GOMERA, EL_HIERRO],
    "Las Palmas": [GRAN_CANARIA, FUERTEVENTURA, LANZAROTE, LA_GRACIOSA],
}

# provincias con empresas
prov_names = ["La Coruña", "Asturias", "Cantabria", "Bizkaia", "Gipuzkoa", "Pontevedra", "La Rioja", "Girona",
              "Barcelona", "Zaragoza", "Tarragona", "Salamanca", "Madrid", "Toledo", "Valencia", "Baleares",
              "Albacete", "Alicante", "Córdoba", "Granada", "Almería", "Málaga", "Cádiz", "Las Palmas",
              "Santa Cruz de Tenerife"]
prov_empresas = [2, 4, 1, 2, 2, 2, 1, 2, 51, 1, 2, 1, 34, 1, 12, 18, 1, 10, 3, 2, 1, 19, 9, 10, 7]
prov_rho = [-0.01, 0.21, -0.55, -0.32, -0.25, -0.37, 0.01, -0.32, 0.69, -0.64, -0.27, -0.29, -0.22, -0.65,
            -0.09, 6.54, -0.41, -0.10, 0.45, -0.47, -0.68, 1.29, 1.45, 6.30, 1.31]
prov_cat = ["Promedio", "Levemente sobreponderado", "Subponderado", "Subponderado", "Levemente subponderado",
            "Subponderado", "Promedio", "Subponderado", "Sobreponderado", "Subponderado", "Levemente subponderado",
            "Levemente subponderado", "Levemente subponderado", "Subponderado", "Promedio", "Muy sobreponderado",
            "Subponderado", "Promedio", "Sobreponderado", "Subponderado", "Subponderado", "Muy sobreponderado",
            "Muy sobreponderado", "Muy sobreponderado", "Muy sobreponderado"]
# los textos se leyeron sobre una vista de 1568 de ancho
prov_x = [479, 660, 820, 923, 980, 462, 939, 1361, 1295, 1047, 1212, 670, 846, 812, 1082, 1303, 985, 1095, 765,
          872, 966, 779, 688, 303, 156]
prov_y = [189, 171, 181, 166, 187, 250, 251, 265, 301, 308, 344, 367, 388, 442, 485, 485, 522, 551, 574, 646,
          647, 670, 699, 858, 912]

# provincias sin empresas
empty_names = ["Lugo", "León", "Ourense", "Palencia", "Burgos", "Álava", "Navarra", "Huesca", "Lleida", "Zamora",
               "Valladolid", "Soria", "Segovia", "Guadalajara", "Ávila", "Teruel", "Castellón", "Cuenca", "Cáceres",
               "Ciudad Real", "Badajoz", "Jaén", "Murcia", "Huelva", "Sevilla", "Ceuta", "Melilla"]
empty_x = [565, 688, 554, 786, 860, 932, 1006, 1137, 1224, 690, 764, 937, 820, 927, 761, 1071, 1146, 967, 658,
           838, 658, 868, 1025, 603, 690, 753, 869]
empty_y = [191, 232, 263, 264, 244, 211, 227, 263, 272, 302, 312, 306, 341, 370, 383, 381, 414, 433, 457, 523,
           547, 587, 591, 620, 629, 783, 783]

city_x = [753, 869]
city_y = [763, 763]

legend_labels = ["Muy sobreponderado", "Sobreponderado", "Levemente sobreponderado", "Promedio",
                 "Levemente subponderado", "Subponderado", "Muy subponderado"]
legend_colors = ["#ff9999", "#fdae61", "#fed498", "#a6a6a6", "#a6d96a", "#66bd63", "#1a9850"]
no_data_color = "#e0e0e0"

title = "Distribucion geografica ponderada por densidad - Cluster: 1616"
note = ("$\\rho_{rel}$: Densidad relativa respecto a la media nacional. Ej: +0.10 significa un 10% de sobreponderación.\n"
        "(Si una provincia tiene 50 empresas con $\\rho_{rel}$ +0.10, tiene un exceso de 5 empresas respecto a su cuota esperada).")
heading = "Revenue y marketing hotelero"
summary = ("Consultoría especializada en revenue\nmanagement, marketing digital y\n"
           "estrategia comercial para hoteles y\nalojamientos")
total = "Total empresas: 198"
top_title = "Top 3 empresas (empleados)"
top_names = ["Bookgym sl (106)", "Hoteles Turisticos (98)", "Rialtohotel sl (86)"]
top_y = [349, 367, 384]
keywords = ("Revenue management, Consultoría hotelera, Marketing digital\n"
            "hotelero, Diseño web hotel, Gestión hotelera, Optimización\n"
            "ingresos hotel, Estrategia precios hotel, Análisis datos\n"
            "hotel, Formación hotelera, Consultoría estratégica hotel,\n"
            "Gestión comercial hotel, Publicidad online hotel, Seo\n"
            "hotel, Sem hotel, Branding hotel")
description = ("Esta recopilación de sitios se enfoca en servicios de\n"
               "consultoría y transformación digital para el sector\n"
               "hotelero. Los expertos ayudan a los establecimientos a\n"
               "maximizar sus ingresos mediante revenue management\n"
               "estratégico y a captar más clientes con campañas de\n"
               "marketing digital especializadas. El diseño web orientado a\n"
               "la conversión y la optimización SEO/SEM mejoran la\n"
               "visibilidad online y fomentan reservas directas. Además, se\n"
               "ofrecen formaciones y auditorías que permiten a los\n"
               "hoteleros dominar el análisis de datos, la gestión de\n"
               "reputación y la distribución en OTA. Con un enfoque\n"
               "integral que combina estrategia, tecnología y creatividad,\n"
               "estas propuestas buscan elevar la rentabilidad, reducir la\n"
               "dependencia de comisiones y crear experiencias de marca\n"
               "coherentes que diferencien a cada hotel en un mercado\n"
               "altamente competitivo.")

VIEW = 1560 / 1568


def label(ax, x, y, text, **kw):
    ax.text(x * VIEW, y * VIEW, text, **kw)


sns.set_theme(style="white")
plt.rcParams["font.family"] = "DejaVu Sans"

df = pd.DataFrame({"name": prov_names, "empresas": prov_empresas, "rho": prov_rho,
                   "cat": prov_cat, "x": prov_x, "y": prov_y})
empty = pd.DataFrame({"name": empty_names, "x": empty_x, "y": empty_y})
palette = sns.color_palette(legend_colors)
color_of = dict(zip(legend_labels, palette))
prov_color = {row.name: color_of[row.cat] for row in df.itertuples(index=False)}

fig = plt.figure(figsize=(19.2, 12.18), dpi=200, facecolor="white")
ax = fig.add_axes([0, 0, 1, 1])

for name, parts in SHAPES.items():
    color = prov_color.get(name, no_data_color)
    for i, part in enumerate(parts):
        # islotes de Alboran y Chafarinas van en gris sin datos
        if part is ALBORAN or part is CHAFARINAS:
            color = no_data_color
        xs, ys = zip(*part)
        ax.fill(xs, ys, facecolor=color, edgecolor="white", linewidth=0.9 if len(part) > 4 else 0, joinstyle="round")

sns.scatterplot(x=[v * VIEW for v in city_x], y=[v * VIEW for v in city_y], s=85, color=no_data_color,
                linewidth=0, legend=False, ax=ax)

ax.set_xlim(0, 1560)
ax.set_ylim(989.6, 0)
ax.set_axis_off()
sns.despine(ax=ax, left=True, bottom=True)

for row in df.itertuples(index=False):
    label(ax, row.x, row.y, row.name, ha="center", va="center", fontsize=7.2, fontweight="bold", color="#111111")
    label(ax, row.x, row.y + 12.5, f"Empresas: {row.empresas}", ha="center", va="center", fontsize=6, color="#222222")
    label(ax, row.x, row.y + 20, f"$\\rho_{{rel}}$: {row.rho:+.2f}", ha="center", va="center", fontsize=6, color="#222222")

for row in empty.itertuples(index=False):
    label(ax, row.x, row.y, row.name, ha="center", va="center", fontsize=7.4, color="#555555")
    label(ax, row.x, row.y + 9.5, "Sin empresas", ha="center", va="center", fontsize=5.7, color="#888888")

label(ax, 760, 30, title, ha="center", va="center", fontsize=16.4, fontweight="bold", color="black")
label(ax, 760, 74, note, ha="center", va="center", fontsize=8.2, style="italic", color="black")

label(ax, 65, 162, heading, va="center", fontsize=11.9, fontweight="bold", color="black")
label(ax, 65, 186, summary, va="top", fontsize=10, color="black", linespacing=1.085)
label(ax, 65, 283, total, va="center", fontsize=11, fontweight="bold", color="black")
ax.plot([65 * VIEW, 312 * VIEW], [299 * VIEW, 299 * VIEW], color="#888888", linewidth=0.7)
label(ax, 65, 326, top_title, va="center", fontsize=9, color="#111111")
for y, name in zip(top_y, top_names):
    label(ax, 65, y, name, va="center", fontsize=8.2, style="italic", color="#111111")
label(ax, 65, 424, "Principales keywords", va="center", fontsize=9.1, fontweight="bold", color="black")
label(ax, 65, 436, keywords, va="top", fontsize=8.2, color="#111111", linespacing=1.136)
label(ax, 65, 550, "Descripción del cluster", va="center", fontsize=9.1, fontweight="bold", color="black")
label(ax, 65, 562, description, va="top", fontsize=8.2, color="#555555", linespacing=1.136)

label(ax, 1316, 810, "Referencias de colores", va="center", fontsize=10, color="black")
handles = [Patch(facecolor=c, edgecolor="none", label=l) for c, l in zip(legend_colors, legend_labels)]
ax.legend(handles=handles, loc="upper left", bbox_to_anchor=(1317 * VIEW, 829), bbox_transform=ax.transData,
          frameon=False, fontsize=9.1, labelspacing=0.58, borderpad=0, borderaxespad=0, handlelength=1.95,
          handletextpad=0.88, labelcolor="black")

fig.savefig("out.png", dpi=200)
